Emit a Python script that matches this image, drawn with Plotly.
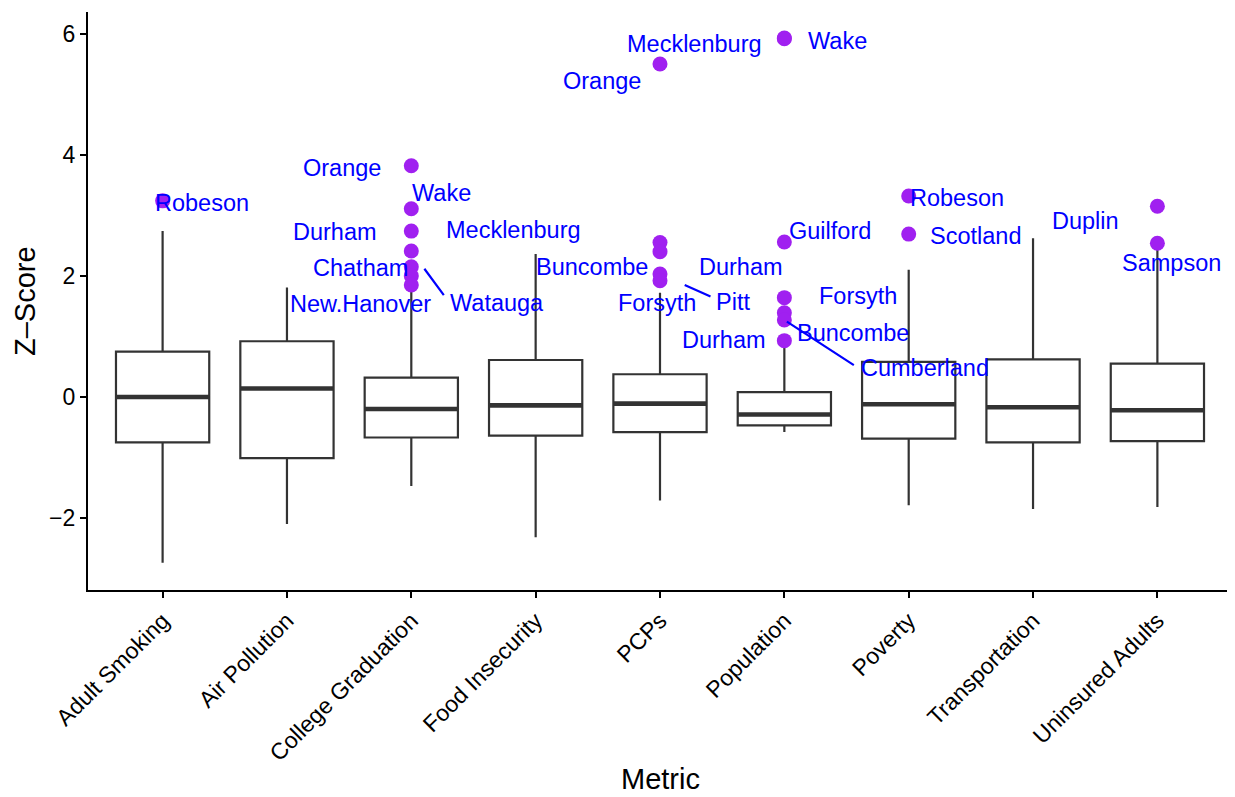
import plotly.graph_objects as go

# ---------------- data ----------------
metrics = ["Adult Smoking", "Air Pollution", "College Graduation", "Food Insecurity",
           "PCPs", "Population", "Poverty", "Transportation", "Uninsured Adults"]
q1 = [-0.75, -1.01, -0.67, -0.64, -0.58, -0.47, -0.69, -0.75, -0.73]
medians = [0.00, 0.14, -0.20, -0.14, -0.11, -0.29, -0.12, -0.17, -0.22]
q3 = [0.75, 0.92, 0.32, 0.61, 0.375, 0.08, 0.58, 0.62, 0.55]
lower_whisker = [-2.74, -2.10, -1.47, -2.32, -1.71, -0.58, -1.79, -1.85, -1.82]
upper_whisker = [2.74, 1.81, 1.76, 2.36, 1.72, 0.82, 2.10, 2.62, 2.46]

outlier_metric = ["Adult Smoking",
                  "College Graduation", "College Graduation", "College Graduation",
                  "College Graduation", "College Graduation", "College Graduation",
                  "College Graduation",
                  "PCPs", "PCPs", "PCPs", "PCPs", "PCPs",
                  "Population", "Population", "Population", "Population",
                  "Population", "Population", "Population",
                  "Poverty", "Poverty",
                  "Uninsured Adults", "Uninsured Adults"]
outlier_value = [3.24,
                 3.82, 3.11, 2.74, 2.41, 2.15, 2.00, 1.85,
                 5.50, 2.55, 2.40, 2.03, 1.92,
                 5.93, 5.92, 2.56, 1.64, 1.39, 1.27, 0.93,
                 3.32, 2.69,
                 3.15, 2.54]
outlier_county = ["Robeson",
                  "Orange", "Wake", "Durham", "Watauga", "Mecklenburg", "Chatham", "New.Hanover",
                  "Orange", "Durham", "Buncombe", "Pitt", "Forsyth",
                  "Wake", "Mecklenburg", "Guilford", "Forsyth", "Buncombe", "Cumberland", "Durham",
                  "Robeson", "Scotland",
                  "Duplin", "Sampson"]

# ---------------- label placement (pixel offsets from the point, dx right, dy down) ----------------
label_dx = [39, -69, 30, -76, 86, 102, -51, -51, -58, 81, -68, 73, -3,
            53, -90, 46, 74, 69, 141, -60, 48, 67, -72, 14]
label_dy = [2, 2, -16, 1, 52, -37, -8, 19, 17, 24, 15, 28, 22,
            3, 5, -11, -2, 20, 48, -1, 2, 2, 15, 20]
# connector segments (end offset in pixels, start stand-off in pixels), None = no segment
segment_end = [None, None, None, None, (34, 46), None, None, None, None, None, None, (52, 23), None,
               None, None, None, None, None, (71, 46), None, None, None, None, None]
segment_standoff = [0, 0, 0, 0, 22, 0, 0, 0, 0, 0, 0, 27, 0,
                    0, 0, 0, 0, 0, 3, 0, 0, 0, 0, 0]

# ---------------- styles ----------------
FONT = "Liberation Sans, Arial, Helvetica, sans-serif"
BOX_COLOR = "#333333"
BOX_WIDTH = 0.75
POINT_COLOR = "#A020F0"
LABEL_COLOR = "#0000FF"

xpos = list(range(len(metrics)))
idx = {m: i for i, m in enumerate(metrics)}

fig = go.Figure()

fig.add_trace(go.Box(
    x=xpos, q1=q1, median=medians, q3=q3,
    lowerfence=lower_whisker, upperfence=upper_whisker,
    width=BOX_WIDTH, whiskerwidth=0, boxpoints=False,
    fillcolor="white", line=dict(color=BOX_COLOR, width=2.2),
    showlegend=False, hoverinfo="skip",
))

# thicker median bars (ggplot style)
mx, my = [], []
for i, m in enumerate(medians):
    mx += [i - BOX_WIDTH / 2, i + BOX_WIDTH / 2, None]
    my += [m, m, None]
fig.add_trace(go.Scatter(x=mx, y=my, mode="lines",
                         line=dict(color=BOX_COLOR, width=4.6),
                         showlegend=False, hoverinfo="skip"))

ox = [idx[m] for m in outlier_metric]
fig.add_trace(go.Scatter(x=ox, y=outlier_value, mode="markers",
                         marker=dict(color=POINT_COLOR, size=15, line=dict(width=0)),
                         text=outlier_county, showlegend=False))

annotations = []
for x, y, name, dx, dy, seg, so in zip(ox, outlier_value, outlier_county, label_dx, label_dy,
                                       segment_end, segment_standoff):
    if seg is not None:
        annotations.append(dict(x=x, y=y, xref="x", yref="y", text=" ",
                                font=dict(size=1), showarrow=True, arrowhead=0,
                                arrowwidth=2.2, arrowcolor=LABEL_COLOR,
                                ax=seg[0], ay=seg[1], standoff=so))
    annotations.append(dict(x=x, y=y, xref="x", yref="y", text=name, showarrow=False,
                            xshift=dx, yshift=-dy, xanchor="center", yanchor="middle",
                            font=dict(family=FONT, size=23.5, color=LABEL_COLOR)))

annotations.append(dict(text="Metric", xref="paper", yref="paper", x=0.5, y=0,
                        yshift=-189, showarrow=False, xanchor="center", yanchor="middle",
                        borderpad=0,
                        font=dict(family=FONT, size=29, color="black")))
annotations.append(dict(text="Z\u2013Score", xref="paper", yref="paper", x=0, y=0.5,
                        xshift=-63, showarrow=False, xanchor="center", yanchor="middle",
                        textangle=-90, borderpad=0,
                        font=dict(family=FONT, size=29, color="black")))

axis_common = dict(showgrid=False, zeroline=False, showline=True, linecolor="black",
                   linewidth=2.2, ticks="outside", ticklen=6, tickwidth=2.2,
                   tickcolor="black", tickfont=dict(family=FONT, size=23, color="black"))

# the page adds an 8px body margin, so the figure is sized and offset to compensate
fig.update_layout(
    width=1227, height=789,
    margin=dict(l=80, r=3, t=4, b=207),
    plot_bgcolor="white", paper_bgcolor="white",
    font=dict(family=FONT, color="black"),
    xaxis=dict(range=[-0.6, 8.6], tickmode="array", tickvals=xpos, ticktext=metrics,
               tickangle=-45, **axis_common),
    yaxis=dict(range=[-3.19, 6.36], tickmode="array", tickvals=[-2, 0, 2, 4, 6],
               **axis_common),
    annotations=annotations,
    showlegend=False,
)

fig.write_html("out.html")
